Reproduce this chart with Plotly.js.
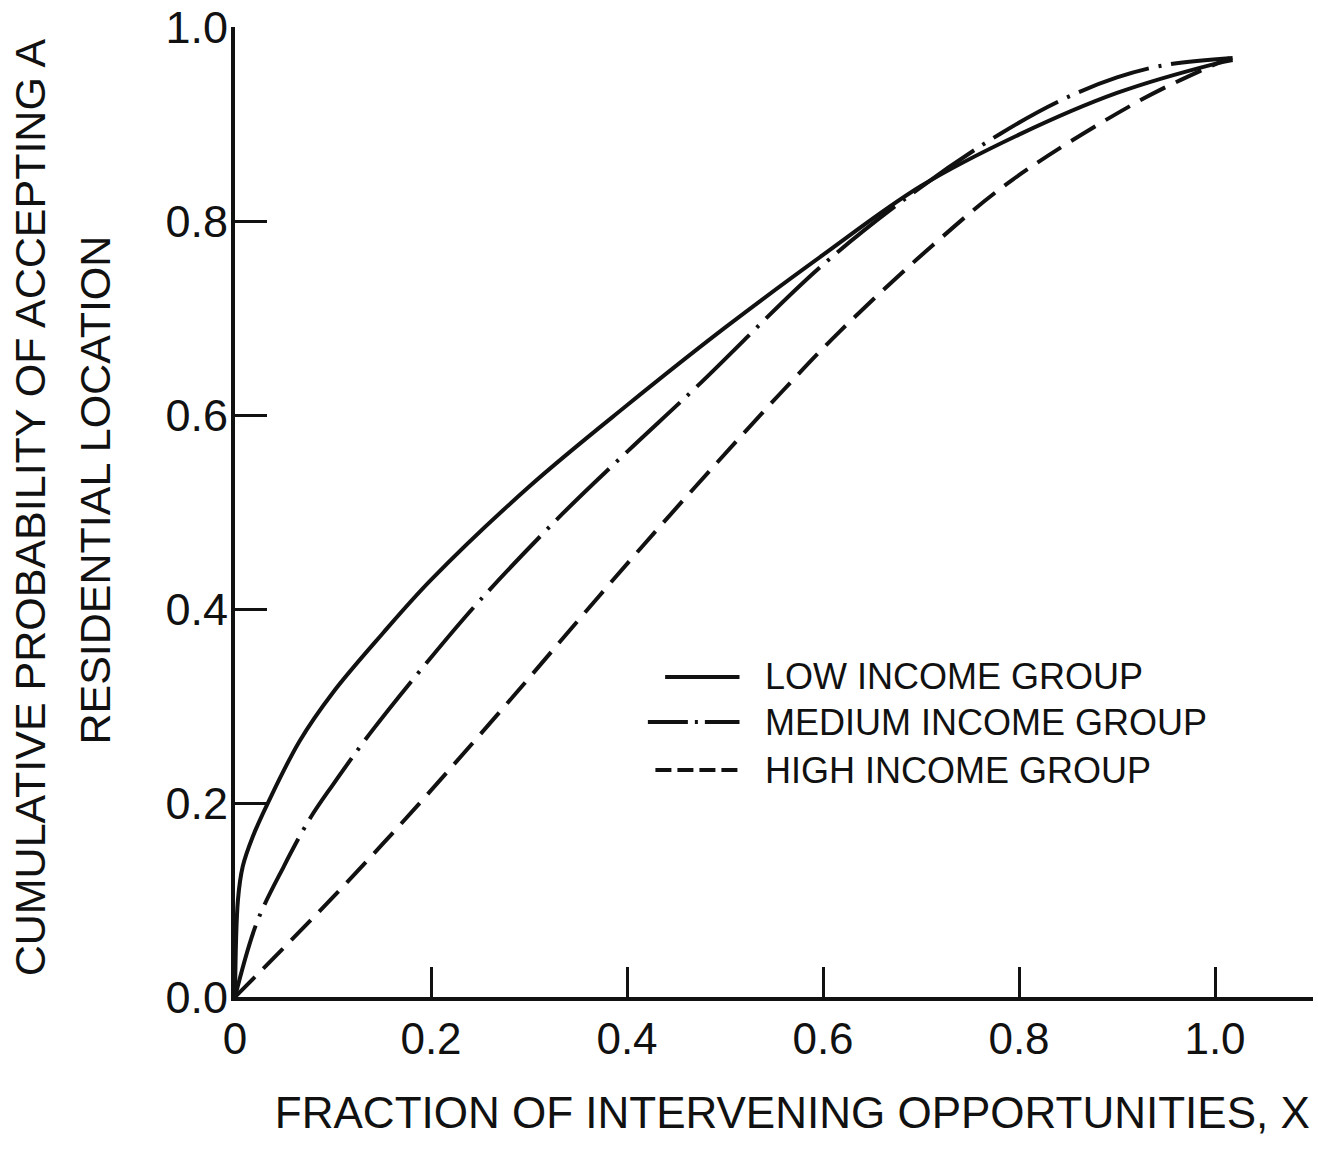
<!DOCTYPE html>
<html>
<head>
<meta charset="utf-8">
<script src="https://cdn.plot.ly/plotly-3.0.1.min.js"></script>
<style>
  html, body { margin: 0; padding: 0; background: #ffffff; }
  #chart { width: 1318px; height: 1149px; }
</style>
</head>
<body>
<div id="chart"></div>
<script>
// ---- Data ----
var seriesNames = ["LOW INCOME GROUP", "MEDIUM INCOME GROUP", "HIGH INCOME GROUP"];

var lowX = [0, 0.003, 0.008, 0.018, 0.034, 0.066, 0.1, 0.15, 0.2, 0.3, 0.4, 0.5, 0.6, 0.7, 0.8, 0.9, 1.0, 1.018];
var lowY = [0, 0.10, 0.135, 0.165, 0.201, 0.264, 0.314, 0.374, 0.43, 0.526, 0.61, 0.69, 0.765, 0.836, 0.889, 0.932, 0.962, 0.966];

var medX = [0, 0.022, 0.05, 0.0765, 0.1, 0.138, 0.2, 0.25, 0.334, 0.4, 0.472, 0.6, 0.7, 0.781, 0.844, 0.9, 0.95, 1.018];
var medY = [0, 0.076, 0.135, 0.184, 0.219, 0.272, 0.35, 0.409, 0.498, 0.562, 0.63, 0.755, 0.835, 0.89, 0.925, 0.948, 0.961, 0.968];

var highX = [0, 0.05, 0.1, 0.15, 0.2, 0.284, 0.35, 0.416, 0.492, 0.559, 0.617, 0.712, 0.794, 0.923, 0.992, 1.015];
var highY = [0, 0.051, 0.103, 0.157, 0.213, 0.310, 0.388, 0.465, 0.551, 0.625, 0.686, 0.775, 0.843, 0.924, 0.958, 0.968];

var xTickVals = [0, 0.2, 0.4, 0.6, 0.8, 1.0];
var xTickText = ["0", "0.2", "0.4", "0.6", "0.8", "1.0"];
var yTickVals = [0, 0.2, 0.4, 0.6, 0.8, 1.0];
var yTickText = ["0.0", "0.2", "0.4", "0.6", "0.8", "1.0"];

var xTitle = "FRACTION OF INTERVENING OPPORTUNITIES, X";
var yTitleLines = ["CUMULATIVE PROBABILITY OF ACCEPTING A", "RESIDENTIAL LOCATION"];

// ---- Styling ----
var ink = "#111111";
var font = "'Liberation Sans', Arial, sans-serif";
var dashes = ["solid", "74px,10px,3px,10px", "28px,12px"];
var keyDashes = ["solid", "40px,7px,3px,7px", "16px,6px"];

var traces = [
  { x: lowX, y: lowY, name: seriesNames[0], mode: "lines",
    line: { color: ink, width: 4, shape: "spline", dash: dashes[0] } },
  { x: medX, y: medY, name: seriesNames[1], mode: "lines",
    line: { color: ink, width: 4, shape: "spline", dash: dashes[1] } },
  { x: highX, y: highY, name: seriesNames[2], mode: "lines",
    line: { color: ink, width: 4, shape: "spline", dash: dashes[2] } }
];

// Legend key (paper-referenced sample lines + text, like the lettered original)
var keyRowsY = [0.330, 0.2835, 0.234];
var keyStartX = [0.399, 0.383, 0.390];
var keyEndX = 0.468;
var keyTextX = 0.490;
var shapes = [];
var annotations = [];
for (var i = 0; i < seriesNames.length; i++) {
  shapes.push({
    type: "line", xref: "paper", yref: "paper",
    x0: keyStartX[i], x1: keyEndX, y0: keyRowsY[i], y1: keyRowsY[i],
    line: { color: ink, width: 4, dash: keyDashes[i] }
  });
  annotations.push({
    xref: "paper", yref: "paper", x: keyTextX, y: keyRowsY[i],
    xanchor: "left", yanchor: "middle", showarrow: false,
    text: seriesNames[i], font: { family: font, size: 36, color: ink }
  });
}

// Y-axis title, two lettered lines
var yTitleX = [-0.190, -0.130];
var yTitleY = [0.505, 0.523];
for (var j = 0; j < yTitleLines.length; j++) {
  annotations.push({
    xref: "paper", yref: "paper", x: yTitleX[j], y: yTitleY[j],
    xanchor: "center", yanchor: "middle", showarrow: false, textangle: -90,
    text: yTitleLines[j], font: { family: font, size: 43, color: ink }
  });
}

var layout = {
  width: 1318, height: 1149,
  paper_bgcolor: "#ffffff", plot_bgcolor: "#ffffff",
  margin: { l: 235, r: 5, t: 27, b: 152 },
  font: { family: font, color: ink, size: 44 },
  showlegend: false,
  shapes: shapes,
  annotations: annotations,
  xaxis: {
    range: [0, 1.1], showgrid: false, zeroline: false,
    showline: true, linecolor: ink, linewidth: 4,
    ticks: "inside", ticklen: 30, tickwidth: 3, tickcolor: ink,
    tickvals: xTickVals, ticktext: xTickText,
    tickfont: { family: font, size: 44, color: ink },
    title: { text: "&nbsp;&nbsp;&nbsp;" + xTitle, font: { family: font, size: 44, color: ink }, standoff: 36 },
    automargin: false, fixedrange: true
  },
  yaxis: {
    range: [0, 1.0], showgrid: false, zeroline: false,
    showline: true, linecolor: ink, linewidth: 4,
    ticks: "inside", ticklen: 32, tickwidth: 3, tickcolor: ink,
    tickvals: yTickVals, ticktext: yTickText,
    tickfont: { family: font, size: 45, color: ink },
    ticklabelstandoff: -6,
    automargin: false, fixedrange: true
  }
};

Plotly.newPlot("chart", traces, layout, { displayModeBar: false, staticPlot: true });
</script>
</body>
</html>
